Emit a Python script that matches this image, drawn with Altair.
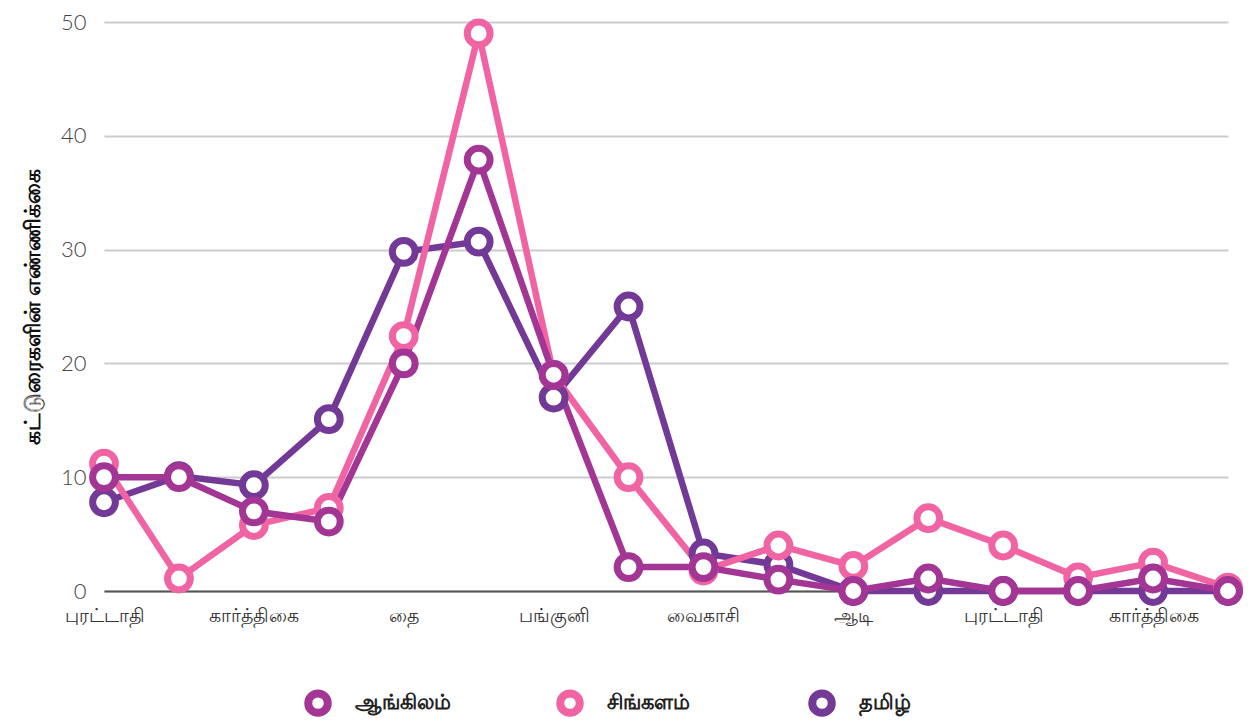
import altair as alt
import pandas as pd

months = ["புரட்டாதி", "ஐப்பசி", "கார்த்திகை", "மார்கழி", "தை", "மாசி", "பங்குனி", "சித்திரை",
          "வைகாசி", "ஆனி", "ஆடி", "ஆவணி", "புரட்டாதி", "ஐப்பசி", "கார்த்திகை", "மார்கழி"]
series_names = ["ஆங்கிலம்", "சிங்களம்", "தமிழ்"]
english = [10, 10, 7, 6.1, 20, 37.9, 19, 2.1, 2.1, 1, 0, 1.1, 0, 0, 1.1, 0]
sinhala = [11.2, 1.1, 5.8, 7.3, 22.4, 49, 19, 10, 1.8, 4, 2.2, 6.4, 4, 1.2, 2.5, 0.3]
tamil = [7.8, 10.1, 9.3, 15.1, 29.8, 30.7, 17, 25, 3.3, 2.3, 0, 0, 0, 0, 0, 0]
colors = ["#a33694", "#f064a4", "#733996"]
tick_idx = [0, 2, 4, 6, 8, 10, 12, 14]

values = {"ஆங்கிலம்": english, "சிங்களம்": sinhala, "தமிழ்": tamil}
draw_order = ["தமிழ்", "சிங்களம்", "ஆங்கிலம்"]
rows = []
for z, name in enumerate(draw_order):
    for i, v in enumerate(values[name]):
        rows.append({"idx": i, "month": months[i], "series": name, "value": v, "z": z})
df = pd.DataFrame(rows)

label_arr = "[" + ",".join("'" + m + "'" for m in months) + "]"

x_enc = alt.X("idx:Q", scale=alt.Scale(domain=[0, 15], nice=False, zero=False),
              axis=alt.Axis(values=tick_idx, labelExpr=label_arr + "[datum.value]",
                            title=None, grid=False, ticks=False, domain=True,
                            domainColor="#555555", domainWidth=2, labelFlush=False,
                            labelFontSize=19, labelColor="#333333", labelPadding=15,
                            labelFont="Noto Sans"))
y_enc = alt.Y("value:Q", scale=alt.Scale(domain=[0, 50]),
              axis=alt.Axis(values=[0, 10, 20, 30, 40, 50], title="கட்டுரைகளின் எண்ணிக்கை",
                            titleFontSize=22, titleFontWeight="bold", titleColor="#111111",
                            titlePadding=16, labelFontSize=22, labelColor="#444444",
                            labelFontWeight=300, labelFont="Lato",
                            labelPadding=18, ticks=False, domain=False,
                            gridColor="#cccccc", gridWidth=2))
color_scale = alt.Scale(domain=series_names, range=colors)

legend = alt.Legend(title=None, orient="none", direction="horizontal",
                    legendX=200, legendY=667, columns=3, gridAlign="all",
                    columnPadding=93,
                    labelFontSize=21, labelFontWeight="bold",
                    labelColor="#222222", symbolSize=380,
                    symbolStrokeWidth=8, symbolFillColor="white",
                    symbolType="circle", labelOffset=23, labelFont="Noto Sans")

layers = []
for z, name in enumerate(draw_order):
    layers.append(
        alt.Chart(df[df["series"] == name]).mark_line(strokeWidth=6.5).encode(
            x=x_enc, y=y_enc,
            color=alt.Color("series:N", scale=color_scale, legend=legend),
        )
    )

points = alt.Chart(df).mark_point(shape="circle", filled=False, fill="white", fillOpacity=1,
                                  strokeWidth=7, size=520, opacity=1).encode(
    x=x_enc, y=y_enc,
    color=alt.Color("series:N", scale=color_scale, legend=legend),
    order=alt.Order("z:Q"),
)

chart = alt.layer(*layers, points).properties(
    width=1124, height=569,
    autosize=alt.AutoSizeParams(type="none"),
    padding={"left": 96, "top": 14, "right": 19, "bottom": 126},
).configure_view(strokeWidth=0, stroke="transparent")

chart.save("out.html", embed_options={"renderer": "svg", "actions": False})
